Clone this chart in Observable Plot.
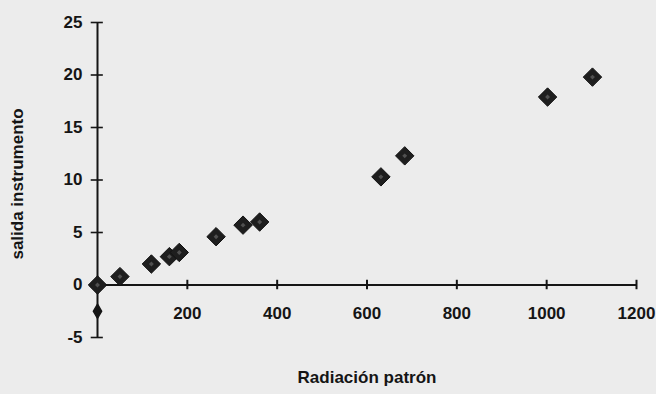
<!DOCTYPE html>
<html>
<head>
<meta charset="utf-8">
<script src="https://cdn.jsdelivr.net/npm/d3@7"></script>
<script src="https://cdn.jsdelivr.net/npm/@observablehq/plot@0.6"></script>
<style>
  html, body { margin: 0; padding: 0; background: #ececec; }
</style>
</head>
<body>
<div id="chart"></div>
<script>
// Data
const radiacion = [0, 50, 120, 160, 182, 264, 324, 361, 631, 684, 1002, 1102];
const salida    = [0, 0.8, 2.0, 2.7, 3.1, 4.6, 5.7, 6.0, 10.3, 12.3, 17.9, 19.8];
const extraX = [0];
const extraY = [-2.5];
const xTicks = [200, 400, 600, 800, 1000, 1200];
const yTicks = [-5, 0, 5, 10, 15, 20, 25];
const xLabel = "Radiación patrón";
const yLabel = "salida instrumento";

const points = radiacion.map((x, i) => ({x, y: salida[i]}));
const extra = extraX.map((x, i) => ({x, y: extraY[i]}));

const ink = "#151515";
const font = "Liberation Sans, Arial, sans-serif";

const chart = Plot.plot({
  width: 656,
  height: 394,
  marginLeft: 97,
  marginRight: 20,
  marginTop: 22,
  marginBottom: 57,
  x: {domain: [0, 1200], axis: null},
  y: {domain: [-5, 25], axis: null},
  style: {background: "#ececec", fontFamily: font, color: ink},
  marks: [
    Plot.ruleY([0], {stroke: ink, strokeWidth: 2}),
    Plot.ruleX([0], {stroke: ink, strokeWidth: 2}),
    Plot.ruleX(xTicks, {x: d => d, y1: -0.45, y2: 0.45, stroke: ink, strokeWidth: 2}),
    Plot.ruleY(yTicks, {y: d => d, x1: -14, x2: 13, stroke: ink, strokeWidth: 1.6}),
    Plot.text(xTicks, {x: d => d, y: 0, dy: 29, text: d => String(d), fontSize: 17, fontWeight: "bold", fill: ink}),
    Plot.text(yTicks, {x: 0, y: d => d, dx: -15, text: d => String(d), textAnchor: "end", fontSize: 17, fontWeight: "bold", fill: ink}),
    Plot.dot(extra, {x: "x", y: "y", symbol: "diamond", r: 4.3, fill: ink, stroke: ink}),
    Plot.dot(points, {x: "x", y: "y", symbol: "diamond2", r: 8.3, fill: "#1e1e1e", stroke: "#111", strokeWidth: 1}),
    Plot.dot(points, {x: "x", y: "y", symbol: "diamond2", r: 2.2, fill: "#505050"}),
    Plot.text([xLabel], {frameAnchor: "bottom", dy: 45, fontSize: 17, fontWeight: "bold", fill: ink}),
    Plot.text([yLabel], {frameAnchor: "left", textAnchor: "middle", dx: -80, dy: 4, rotate: -90, fontSize: 17, fontWeight: "bold", fill: ink})
  ]
});
document.getElementById("chart").appendChild(chart);
</script>
</body>
</html>
